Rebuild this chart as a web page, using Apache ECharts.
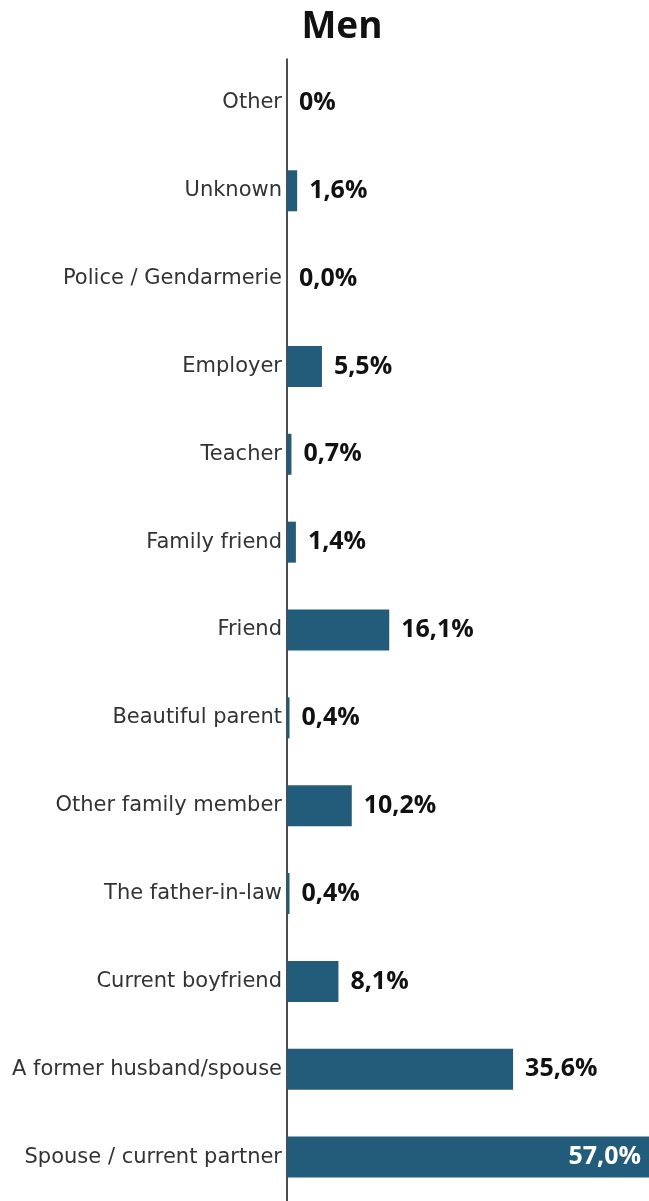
<!DOCTYPE html>
<html>
<head>
<meta charset="utf-8">
<script src="https://cdn.jsdelivr.net/npm/echarts@6/dist/echarts.min.js"></script>
<style>
html,body{margin:0;padding:0;background:#fff;}
#chart{width:649px;height:1201px;}
</style>
</head>
<body>
<div id="chart"></div>
<script>
const categories = [
  "Other", "Unknown", "Police / Gendarmerie", "Employer", "Teacher",
  "Family friend", "Friend", "Beautiful parent", "Other family member",
  "The father-in-law", "Current boyfriend", "A former husband/spouse",
  "Spouse / current partner"
];
const values = [0, 1.6, 0.0, 5.5, 0.7, 1.4, 16.1, 0.4, 10.2, 0.4, 8.1, 35.6, 57.0];
const valueLabels = ["0%", "1,6%", "0,0%", "5,5%", "0,7%", "1,4%", "16,1%", "0,4%", "10,2%", "0,4%", "8,1%", "35,6%", "57,0%"];
const title = "Men";

const FONT = "'Open Sans', 'Noto Sans', sans-serif";
const LABEL_FONT = "'DejaVu Sans', sans-serif";
const chart = echarts.init(document.getElementById('chart'), null, {renderer: 'canvas'});

const data = values.map((v, i) => {
  const last = i === values.length - 1;
  return {
    value: v,
    label: last ? {position: 'insideRight', color: '#fff', distance: 8} : {}
  };
});

chart.setOption({
  animation: false,
  backgroundColor: '#fff',
  title: {
    text: title,
    left: 337,
    textAlign: 'center',
    top: 4,
    textStyle: {fontFamily: FONT, fontWeight: 'bold', fontSize: 37, color: '#111'}
  },
  grid: {left: 287, right: 0, top: 59, bottom: -3, containLabel: false},
  xAxis: {
    type: 'value', min: 0, max: 57,
    show: false
  },
  yAxis: {
    type: 'category',
    data: categories,
    inverse: true,
    axisLine: {show: true, lineStyle: {color: '#111', width: 1.5}},
    axisTick: {show: false},
    axisLabel: {fontFamily: LABEL_FONT, fontSize: 21, color: '#333', margin: 5}
  },
  series: [{
    type: 'bar',
    data: data,
    barWidth: 41,
    itemStyle: {color: '#235c7a'},
    label: {
      show: true,
      position: 'right',
      distance: 12,
      fontFamily: FONT,
      fontWeight: 'bold',
      fontSize: 25,
      color: '#111',
      formatter: p => valueLabels[p.dataIndex]
    }
  }]
});
</script>
</body>
</html>
